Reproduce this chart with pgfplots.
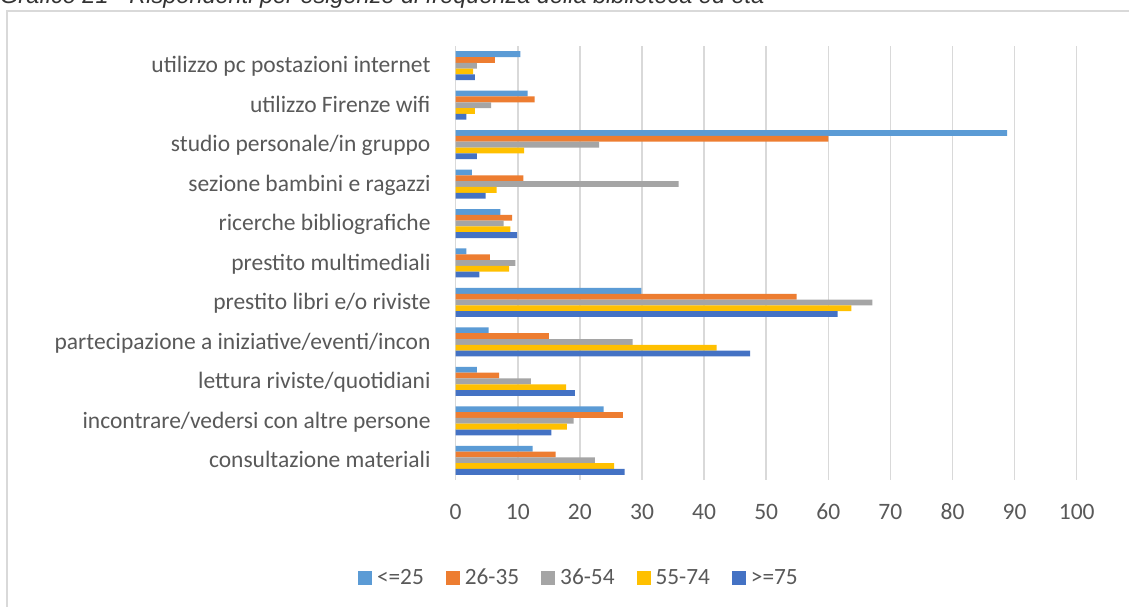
\documentclass[border=0pt]{standalone}
\usepackage{pgfplots}
\pgfplotsset{compat=1.18}
\usepackage{pgfplotstable}
\usepackage{fontspec}
\setmainfont{Carlito}
\newfontfamily\arialfont{Liberation Sans}
\definecolor{cA}{HTML}{5B9BD5}
\definecolor{cB}{HTML}{ED7D31}
\definecolor{cC}{HTML}{A5A5A5}
\definecolor{cD}{HTML}{FFC000}
\definecolor{cE}{HTML}{4472C4}
\definecolor{gridgray}{HTML}{D9D9D9}
\definecolor{txtgray}{HTML}{595959}
\definecolor{titlegray}{HTML}{333333}
\pgfplotstableread{
idx a b c d e
0 12.4 16.1 22.4 25.5 27.2
1 23.8 26.9 19.0 17.9 15.4
2 3.4 7.0 12.1 17.8 19.2
3 5.3 15.0 28.5 42.0 47.4
4 29.9 54.9 67.1 63.7 61.5
5 1.7 5.5 9.6 8.6 3.8
6 7.2 9.1 7.7 8.8 9.9
7 2.6 10.9 35.9 6.6 4.8
8 88.8 60.0 23.1 11.0 3.4
9 11.6 12.7 5.7 3.1 1.7
10 10.4 6.3 3.4 2.8 3.1
}\datatable
\begin{document}
\begin{tikzpicture}[x=1pt,y=1pt]
\clip (0,0) rectangle (1129,607);
\fill[white] (0,0) rectangle (1129,607);
\draw[color=gridgray, line width=1.5pt] (7,-10) -- (7,596) -- (1140,596);
\node[anchor=base west, inner sep=0pt, font=\arialfont\itshape\fontsize{23.5}{28}\selectfont, text=titlegray] at (0,603) {Grafico 21 - Rispondenti per esigenze di frequenza della biblioteca ed età};
\begin{axis}[
  at={(455.7pt,127pt)}, anchor=south west,
  scale only axis, width=621pt, height=434pt,
  xmin=0, xmax=100, ymin=-0.5, ymax=10.5,
  enlargelimits=false,
  xbar, bar width=5.8pt,
  axis line style={draw=none},
  major tick length=0pt,
  xtick={0,10,...,100},
  xmajorgrids, grid style={gridgray, line width=1.5pt},
  ytick={0,...,10},
  yticklabels={consultazione materiali, incontrare/vedersi con altre persone, lettura riviste/quotidiani, partecipazione a iniziative/eventi/incon, prestito libri e/o riviste, prestito multimediali, ricerche bibliografiche, sezione bambini e ragazzi, studio personale/in gruppo, utilizzo Firenze wifi, utilizzo pc postazioni internet},
  /pgf/number format/assume math mode=true,
  tick label style={font=\fontsize{23.5}{28}\selectfont, text=txtgray, inner sep=0pt},
  xticklabel style={anchor=base, yshift=-39.1pt},
  yticklabel style={anchor=base east, xshift=-25pt, yshift=-7.2pt},
  legend columns=5,
  legend image code/.code={\fill[#1] (0pt,-7pt) rectangle (14pt,7pt);},
  legend style={at={(0.5512,-0.2251)}, anchor=east, draw=none, fill=none, inner sep=0pt,
    font=\fontsize{23.3}{28}\selectfont, text=txtgray,
    nodes={inner sep=0pt},
    /tikz/every odd column/.append style={column sep=5pt},
    /tikz/every even column/.append style={column sep=22pt}},
]
\addplot[fill=cA, draw=none, bar shift=11.6pt] table[x=a, y=idx] {\datatable};
\addplot[fill=cB, draw=none, bar shift=5.8pt] table[x=b, y=idx] {\datatable};
\addplot[fill=cC, draw=none, bar shift=0pt] table[x=c, y=idx] {\datatable};
\addplot[fill=cD, draw=none, bar shift=-5.8pt] table[x=d, y=idx] {\datatable};
\addplot[fill=cE, draw=none, bar shift=-11.6pt] table[x=e, y=idx] {\datatable};
\legend{<=25, 26-35, 36-54, 55-74, >=75}
\end{axis}
\end{tikzpicture}
\end{document}
